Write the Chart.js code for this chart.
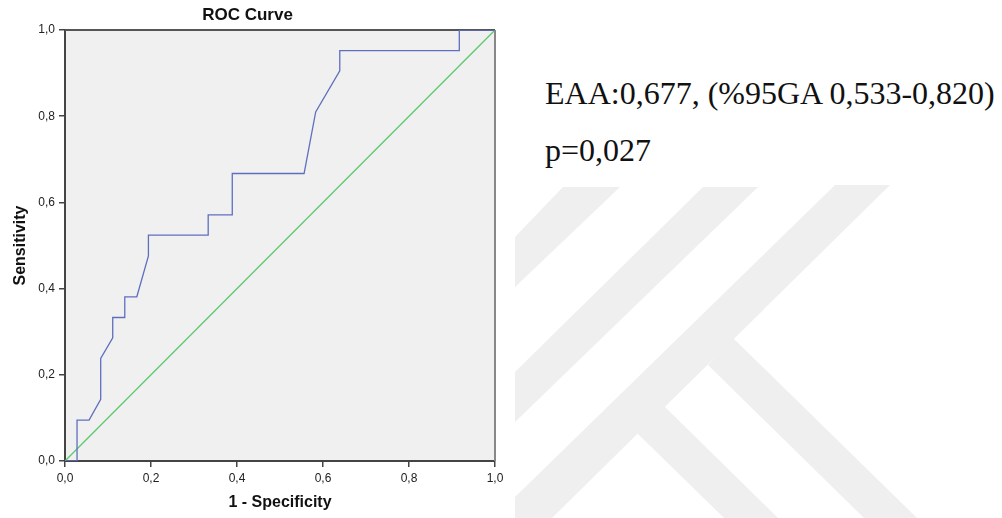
<!DOCTYPE html>
<html>
<head>
<meta charset="utf-8">
<title>ROC Curve</title>
<script src="https://cdn.jsdelivr.net/npm/chart.js@4.4.1/dist/chart.umd.min.js"></script>
<style>
    html, body { margin: 0; padding: 0; background: #fff; }
    body { width: 1002px; height: 518px; position: relative; overflow: hidden; }
    #watermark { position: absolute; left: 0; top: 0; }
    #roc { position: absolute; left: 0; top: 0; }
    .stat {
        position: absolute;
        left: 545px;
        font-family: "Liberation Serif", "Times New Roman", serif;
        font-size: 32px;
        line-height: 32px;
        color: #111;
        white-space: nowrap;
    }
</style>
</head>
<body>
<svg id="watermark" width="1002" height="518">
    <g fill="#efefef">
        <polygon points="563,187 620,187 515,287 515,237"/>
        <polygon points="703,187 758,187 515,422 515,372"/>
        <polygon points="835,185 890,185 552,518 515,518 515,497"/>
        <polygon points="637,433 663,405 778,518 724,518"/>
        <polygon points="708,365 733,338 917,518 864,518"/>
    </g>
</svg>
<canvas id="roc" width="515" height="518"></canvas>
<div class="stat" style="top: 77px;">EAA:0,677, (%95GA 0,533-0,820)</div>
<div class="stat" style="top: 134px;">p=0,027</div>

<script>
// roc curve: 1 - specificity vs sensitivity
const fpr = [0, 0.028, 0.028, 0.056, 0.083, 0.083, 0.111, 0.111, 0.139, 0.139, 0.167, 0.194,
    0.194, 0.333, 0.333, 0.389, 0.389, 0.556, 0.583, 0.639, 0.639, 0.917, 0.917, 1];
const tpr = [0, 0, 0.095, 0.095, 0.143, 0.238, 0.286, 0.333, 0.333, 0.381, 0.381, 0.476,
    0.524, 0.524, 0.571, 0.571, 0.667, 0.667, 0.810, 0.905, 0.952, 0.952, 1, 1];

// reference (chance) line
const refFpr = [0, 1];
const refTpr = [0, 1];

const tickValues = [0, 0.2, 0.4, 0.6, 0.8, 1];

const toPoints = (xs, ys) => xs.map((x, i) => ({ x: x, y: ys[i] }));
const commaLabel = (v) => v.toFixed(1).replace(".", ",");

Chart.defaults.font.family = '"Liberation Sans", Arial, sans-serif';

// grey plot background + top/right frame
const plotFrame = {
    id: "plotFrame",
    beforeDraw(chart) {
        const { ctx, chartArea: a } = chart;
        ctx.save();
        ctx.fillStyle = "#f0f0f0";
        ctx.fillRect(a.left, a.top, a.right - a.left, a.bottom - a.top);
        ctx.restore();
    },
    beforeDatasetsDraw(chart) {
        const { ctx, chartArea: a } = chart;
        ctx.save();
        ctx.lineWidth = 2;
        ctx.strokeStyle = "#555";
        ctx.beginPath();
        ctx.moveTo(a.left, a.top);
        ctx.lineTo(a.right, a.top);
        ctx.stroke();
        ctx.strokeStyle = "#888";
        ctx.beginPath();
        ctx.moveTo(a.right, a.top);
        ctx.lineTo(a.right, a.bottom);
        ctx.stroke();
        ctx.restore();
    },
};

const axisTicks = {
    color: "#222",
    font: { size: 12 },
    padding: 4,
    maxRotation: 0,
    callback: commaLabel,
};

const axisGrid = {
    drawOnChartArea: false,
    tickLength: 6,
    tickColor: "#444",
    lineWidth: 1.5,
};

new Chart(document.getElementById("roc"), {
    type: "scatter",
    data: {
        datasets: [
            {
                data: toPoints(fpr, tpr),
                borderColor: "#5e6fc0",
                borderWidth: 1.3,
                showLine: true,
                pointRadius: 0,
                tension: 0,
            },
            {
                data: toPoints(refFpr, refTpr),
                borderColor: "#5cc86e",
                borderWidth: 1.3,
                showLine: true,
                pointRadius: 0,
            },
        ],
    },
    options: {
        responsive: false,
        animation: false,
        layout: { padding: { left: 0, right: 20, top: 0, bottom: 0 } },
        plugins: {
            legend: { display: false },
            tooltip: { enabled: false },
            title: {
                display: true,
                text: "ROC Curve",
                color: "#111",
                font: { size: 17, weight: "bold" },
                padding: { top: 5, bottom: 4.6 },
            },
        },
        scales: {
            x: {
                type: "linear",
                min: 0,
                max: 1,
                afterBuildTicks: (axis) => {
                    axis.ticks = tickValues.map((v) => ({ value: v }));
                },
                afterFit: (axis) => {
                    axis.height = 57;
                },
                grid: axisGrid,
                border: { color: "#444", width: 2 },
                ticks: axisTicks,
                title: {
                    display: true,
                    text: "1 - Specificity",
                    color: "#111",
                    font: { size: 16, weight: "bold" },
                    padding: { top: 0, bottom: 6 },
                },
            },
            y: {
                type: "linear",
                min: 0,
                max: 1,
                afterBuildTicks: (axis) => {
                    axis.ticks = tickValues.map((v) => ({ value: v }));
                },
                afterFit: (axis) => {
                    axis.width = 65;
                },
                grid: axisGrid,
                border: { color: "#444", width: 2 },
                ticks: axisTicks,
                title: {
                    display: true,
                    text: "Sensitivity",
                    color: "#111",
                    font: { size: 16, weight: "bold" },
                    padding: { top: 11, bottom: 0 },
                },
            },
        },
    },
    plugins: [plotFrame],
});
</script>
</body>
</html>
